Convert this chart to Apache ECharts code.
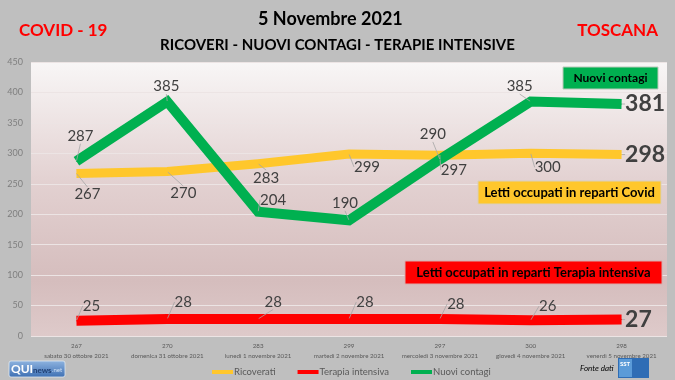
<!DOCTYPE html>
<html><head><meta charset="utf-8">
<script src="https://cdn.jsdelivr.net/npm/echarts@6/dist/echarts.min.js"></script>
<style>html,body{margin:0;padding:0;background:#bfbfbf;}#c{width:675px;height:380px;}</style>
</head><body><div id="c"></div>
<script>
const dates = ['sabato 30 ottobre 2021','domenica 31 ottobre 2021','lunedì 1 novembre 2021','martedì 2 novembre 2021','mercoledì 3 novembre 2021','giovedì 4 novembre 2021','venerdì 5 novembre 2021'];
const ricoverati = [267, 270, 283, 299, 297, 300, 298];
const terapia = [25, 28, 28, 28, 28, 26, 27];
const contagi = [287, 385, 204, 190, 290, 385, 381];
const seriesNames = ['Ricoverati', 'Terapia intensiva', 'Nuovi contagi'];

// label displacement (styling only)
const offContagi = [[4,-25],[-1,-15],[15,-12],[-4,-17],[-7,-25],[-11,-15],[0,0]];
const offRicov = [[11,21],[16,22],[8,14],[18,13],[14,15],[17,14],[0,0]];
const offTerapia = [[15,-15],[16,-17],[15,-17],[16,-17],[16,-15],[17,-14],[0,0]];

const FONT = 'Lato, "Open Sans", sans-serif';
const chart = echarts.init(document.getElementById('c'));

function mkSeries(name, values, color, width, offs) {
  const last = values.length - 1;
  return {
    name: name, type: 'line', data: values.map((v, i) => i === last ? {
      value: v,
      label: { position: 'right', distance: 3, fontSize: 23, fontWeight: 'bold', color: '#404040' }
    } : v),
    symbol: 'circle', symbolSize: 1, showSymbol: true,
    itemStyle: { color: color },
    lineStyle: { color: color, width: width, cap: 'butt', join: 'miter' },
    label: { show: true, position: 'inside', color: '#404040', fontSize: 15, fontFamily: FONT },
    labelLayout: function (p) {
      const o = offs[p.dataIndex];
      return { dx: o[0], dy: o[1] };
    },
    labelLine: { show: true, lineStyle: { color: '#a6a6a6', width: 0.8 } },
    emphasis: { disabled: true },
    animation: false
  };
}

const option = {
  backgroundColor: '#bfbfbf',
  animation: false,
  textStyle: { fontFamily: FONT },
  title: [
    { text: 'COVID - 19', left: 14, top: 17, textStyle: { color: '#ff0000', fontSize: 17, fontWeight: 'bold', fontFamily: FONT } },
    { text: '5 Novembre 2021', left: 253, top: 5, textStyle: { color: '#000', fontSize: 18, fontWeight: 'bold', fontFamily: FONT } },
    { text: 'RICOVERI - NUOVI CONTAGI - TERAPIE INTENSIVE', left: 'center', top: 33, textStyle: { color: '#000', fontSize: 15, fontWeight: 'bold', fontFamily: FONT } },
    { text: 'TOSCANA', right: 12, top: 17, textStyle: { color: '#ff0000', fontSize: 17, fontWeight: 'bold', fontFamily: FONT } }
  ],
  grid: {
    left: 31, right: 8, top: 62, bottom: 44, show: true, borderWidth: 0,
    backgroundColor: { type: 'linear', x: 0, y: 0, x2: 0, y2: 1, colorStops: [
      { offset: 0, color: '#f8f6f6' }, { offset: 0.45, color: '#e2d0d0' },
      { offset: 0.8, color: '#d5bdbd' }, { offset: 1, color: '#decaca' }] }
  },
  legend: {
    top: 362, left: 207, icon: 'rect', itemWidth: 21, itemHeight: 4, itemGap: 22,
    data: seriesNames,
    textStyle: { color: '#595959', fontSize: 9.5, fontFamily: FONT, padding: [0, 0, 0, -4] }
  },
  xAxis: {
    type: 'category', data: dates, boundaryGap: true,
    axisLine: { show: false }, axisTick: { show: false },
    axisLabel: {
      interval: 0, color: '#595959', fontSize: 6.2, lineHeight: 10, margin: 5, fontFamily: FONT,
      formatter: function (v, i) { return ricoverati[i] + '\n' + v; }
    }
  },
  yAxis: {
    type: 'value', min: 0, max: 450, interval: 50,
    axisLine: { show: false }, axisTick: { show: false },
    axisLabel: { color: '#7f7f7f', fontSize: 9, margin: 8, fontFamily: FONT },
    splitLine: { lineStyle: { color: '#ece4e4', width: 1 } }
  },
  series: [
    mkSeries(seriesNames[0], ricoverati, '#ffc72c', 9, offRicov),
    mkSeries(seriesNames[1], terapia, '#ff0000', 10, offTerapia),
    mkSeries(seriesNames[2], contagi, '#00b050', 10, offContagi)
  ],
  graphic: [
    { type: 'rect', shape: { x: 563, y: 67, width: 95, height: 22 }, style: { fill: '#00b050', stroke: '#b9c9b9', lineWidth: 1 }, z: 100 },
    { type: 'text', style: { x: 610.5, y: 78, text: 'Nuovi contagi', fill: '#000', font: 'bold 12px ' + FONT, align: 'center', verticalAlign: 'middle' }, z: 101 },
    { type: 'rect', shape: { x: 478, y: 181, width: 183, height: 23 }, style: { fill: '#ffc72c', stroke: '#d9cfb9', lineWidth: 1 }, z: 100 },
    { type: 'text', style: { x: 569.5, y: 192.5, text: 'Letti occupati in reparti Covid', fill: '#000', font: 'bold 13px ' + FONT, align: 'center', verticalAlign: 'middle' }, z: 101 },
    { type: 'rect', shape: { x: 405, y: 261, width: 257, height: 23 }, style: { fill: '#ff0000', stroke: '#d9aaaa', lineWidth: 1 }, z: 100 },
    { type: 'text', style: { x: 533.5, y: 272.5, text: 'Letti occupati in reparti Terapia intensiva', fill: '#000', font: 'bold 13px ' + FONT, align: 'center', verticalAlign: 'middle' }, z: 101 },
    // QUInews logo
    { type: 'rect', shape: { x: 9, y: 361, width: 56, height: 16, r: 2 },
      style: { fill: { type: 'linear', x: 0, y: 0, x2: 0, y2: 1, colorStops: [{ offset: 0, color: '#8fb4e0' }, { offset: 1, color: '#3d6fb3' }] }, stroke: '#e0e8f0', lineWidth: 0.8 }, z: 100 },
    { type: 'text', style: { x: 11, y: 369, text: 'QUI', fill: '#fff', font: 'bold 12px ' + FONT, verticalAlign: 'middle' }, z: 101 },
    { type: 'text', style: { x: 33, y: 370, text: 'news', fill: '#1f3f73', font: 'bold 8px ' + FONT, verticalAlign: 'middle' }, z: 101 },
    { type: 'text', style: { x: 52, y: 370, text: '.net', fill: '#cfe0f5', font: '6px ' + FONT, verticalAlign: 'middle' }, z: 101 },
    // Fonte dati
    { type: 'text', style: { x: 580, y: 368, text: 'Fonte dati', fill: '#000', font: 'italic 8px ' + FONT, verticalAlign: 'middle' }, z: 101 },
    { type: 'rect', shape: { x: 618, y: 358, width: 31, height: 20 }, style: { fill: '#2f6db5' }, z: 100 },
    { type: 'rect', shape: { x: 619, y: 359, width: 13, height: 18 }, style: { fill: '#5b9bd8' }, z: 100 },
    { type: 'text', style: { x: 620, y: 364, text: 'SST', fill: '#fff', font: 'bold 6px ' + FONT, verticalAlign: 'middle' }, z: 101 }
  ]
};
chart.setOption(option);
</script></body></html>
